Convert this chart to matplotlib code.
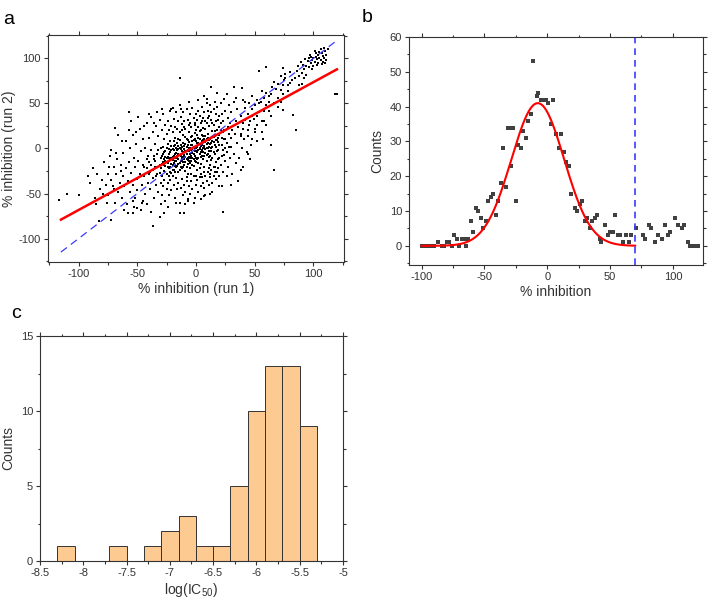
import matplotlib
matplotlib.use("Agg")
import matplotlib.pyplot as plt
import numpy as np
from matplotlib.ticker import MultipleLocator, FuncFormatter

plt.rcParams['font.family'] = ['Liberation Sans', 'DejaVu Sans']
plt.rcParams['mathtext.fontset'] = 'custom'
plt.rcParams['mathtext.rm'] = 'Liberation Sans'
plt.rcParams['mathtext.default'] = 'regular'
plt.rcParams['axes.unicode_minus'] = False

# ---- panel a: % inhibition run 1 vs run 2 ----
core = [
    (-30, -22), (-29, -8), (-29, -30), (-28, -15), (-28, 2), (-27, -25), (-27, -12), (-26, -3), (-26, -19), (-25, -28),
    (-25, -10), (-24, 5), (-24, -16), (-23, -22), (-23, -6), (-22, -13), (-22, 8), (-21, -27), (-21, -2), (-20, -18),
    (-20, -9), (-19, 3), (-19, -24), (-18, -14), (-18, 12), (-17, -5), (-17, -20), (-16, -11), (-16, 6), (-15, -26),
    (-15, -1), (-14, -16), (-14, 9), (-13, -8), (-13, -21), (-12, 2), (-12, -13), (-11, 15), (-11, -4), (-10, -18),
    (-10, -7), (-9, 5), (-9, -25), (-8, -12), (-8, 10), (-7, -2), (-7, -17), (-6, 7), (-6, -9), (-5, -22),
    (-5, 0), (-4, 13), (-4, -14), (-3, -5), (-3, 4), (-2, -19), (-2, 9), (-1, -8), (-1, 17), (0, -3),
    (0, -15), (1, 6), (1, -24), (2, 12), (2, -10), (3, 1), (3, -6), (4, 20), (4, -17), (5, 8),
    (5, -2), (6, 14), (6, -12), (7, 3), (7, -20), (8, 22), (8, -5), (9, 10), (9, -14), (10, 0),
    (10, 16), (11, -9), (11, 25), (12, 5), (12, -18), (13, 12), (13, -3), (14, 19), (14, -11), (15, 7),
    (15, 26), (16, -6), (16, 14), (17, 2), (17, -15), (18, 21), (18, 9), (19, -2), (20, 15), (20, -10),
    (21, 28), (22, 4), (23, 18), (24, -7), (25, 11),
    (-12, -3), (-10, 3), (-8, -6), (-6, -14), (-4, -8), (-2, 2), (0, 8), (2, -2), (4, 3), (6, -4),
    (8, 7), (10, -6), (-15, -12), (-13, -1), (-11, -15), (-9, -9), (-7, 4), (-5, -11), (-3, -18), (-1, 1),
    (1, -12), (3, 10), (5, 15), (7, -8), (9, 1), (11, 9), (13, -13), (-18, -6), (-16, -19), (-14, 0),
    (-20, -1), (-22, -20), (-24, -9), (-26, -14), (-28, -6), (-25, 0), (-21, -11), (-19, -16), (-17, 1), (-23, -30),
    (0, 20), (2, 24), (4, -28), (6, 23), (-3, 14), (-6, 18), (-9, 13), (-12, 20), (-15, 10), (-18, 4),
    (3, -32), (7, -26), (11, -22), (15, -20), (0, -30), (-4, -28), (-8, -32), (12, -28), (16, -26), (19, -22),
    (5, 30), (9, 28), (13, 32), (-1, 26), (17, 30), (20, 36), (10, 34), (-10, 24), (-5, 28), (-7, -28),
]
core_dense = [
    (-24, -20), (-23, -14), (-22, -4), (-21, -17), (-20, -24), (-19, -8), (-18, -19), (-17, -11), (-16, -2), (-15, -17),
    (-14, -7), (-13, -14), (-12, -22), (-11, -9), (-10, -1), (-9, -15), (-8, -20), (-7, -10), (-6, -3), (-5, -16),
    (-4, -2), (-3, -11), (-2, -6), (-1, -14), (0, 1), (1, -4), (2, -16), (3, -1), (4, -9), (5, 4),
    (6, 0), (7, 10), (8, -1), (9, -7), (10, 6), (11, 2), (12, 11), (13, 6), (14, 2), (15, 13),
    (16, 4), (17, 9), (18, -3), (19, 7), (20, 4), (-26, -9), (-27, -18), (-29, -17), (-30, -10), (-31, -27),
    (-23, -1), (-21, 3), (-19, -2), (-17, -14), (-15, -6), (-13, 4), (-11, -20), (-9, -3), (-7, -13), (-5, -6),
    (-3, -1), (-1, -3), (1, 2), (3, 5), (5, -8), (7, 0), (9, 5), (11, -3), (13, 1), (15, -4),
    (-14, -24), (-10, -12), (-6, 1), (-2, -12), (2, 6), (6, 9), (10, 12), (14, 8), (-18, -26), (-22, -26),
    (-8, 2), (-4, 4), (0, -10), (4, -4), (8, 14), (12, -8), (16, 19), (-20, -13), (-16, -8), (-12, -10),
    (-33, -20), (-35, -14), (-37, -24), (-32, -2), (-34, -30), (-36, -8), (-38, -18), (-40, -28), (-42, -12), (-44, -20),
    (-1, 10), (1, 15), (3, 19), (-3, 8), (-7, 9), (-11, 6), (-15, 3), (-19, 8), (-23, -10), (-27, -4),
    (22, 12), (24, 20), (26, 6), (28, 16), (30, 2), (23, -2), (21, 20), (19, 12), (27, 24), (25, 0),
]
spread = [
    (-75, -52), (-74, -20), (-72, -35), (-72, -2), (-70, -45), (-69, -60), (-68, -28), (-67, -12), (-66, -48), (-65, -38),
    (-64, -18), (-63, -55), (-62, -5), (-62, -30), (-61, -42), (-60, -22), (-60, 8), (-59, -62), (-58, -36), (-57, -15),
    (-56, -48), (-56, 0), (-55, -27), (-54, -40), (-54, 15), (-53, -10), (-52, -55), (-52, -20), (-51, 5), (-50, -34),
    (-50, -46), (-49, -14), (-48, -28), (-48, 22), (-47, -3), (-46, -60), (-46, -40), (-45, -18), (-45, 10), (-44, -30),
    (-43, -50), (-43, 0), (-42, -22), (-42, 28), (-41, -38), (-41, -8), (-40, -15), (-40, 12), (-39, -45), (-39, -26),
    (-38, -2), (-38, 35), (-37, -33), (-37, 18), (-36, -55), (-36, -12), (-35, -20), (-35, 5), (-34, -40), (-34, 25),
    (-33, -28), (-33, -6), (-32, -48), (-32, 14), (-31, -18), (-31, 32), (-30, -38), (-30, 0), (-29, -52), (-29, 20),
    (-28, -42), (-28, 38), (-27, 10), (-27, -35), (-26, -58), (-26, 26), (-25, -45), (-25, 16), (-24, -38), (-24, 30),
    (-23, -52), (-23, 20), (-22, -35), (-22, 42), (-21, -46), (-21, 25), (-20, -30), (-20, 18), (-19, -40), (-19, 33),
    (-18, -55), (-18, 24), (-17, -33), (-17, 40), (-16, -45), (-16, 22), (-15, -38), (-15, 30), (-14, -60), (-14, 18),
    (-13, -44), (-13, 35), (-12, -34), (-12, 27), (-11, -52), (-11, 40), (-10, -40), (-10, 30), (-9, -48), (-9, 22),
    (-8, -36), (-8, 44), (-7, -58), (-7, 32), (-6, -42), (-6, 26), (-5, -50), (-5, 38), (-4, -36), (-4, 24),
    (-3, -45), (-3, 45), (-2, -30), (-2, 34), (-1, -55), (-1, 28), (0, -40), (0, 38), (1, -35), (1, 32),
    (2, -48), (2, 42), (3, -22), (3, 36), (4, -42), (4, 28), (5, -32), (5, 46), (6, -38), (6, 34),
    (7, -44), (7, 40), (8, -30), (8, 30), (9, -36), (9, 50), (10, -26), (10, 42), (11, -40), (11, 36),
    (12, -32), (12, 48), (13, -24), (13, 40), (14, -38), (14, 28), (15, -30), (15, 44), (16, -20), (16, 52),
    (17, -34), (17, 38), (18, -26), (18, 46), (19, -12), (19, 32), (20, -30), (20, 24), (21, -18), (21, 50),
    (22, -8), (22, 38), (23, -26), (23, 30), (24, 10), (24, 55), (25, -14), (25, 42), (26, -4), (26, 22),
    (27, -20), (27, 34), (28, 2), (28, 48), (29, -10), (29, 28), (30, 12), (30, 40), (31, -28), (31, 20),
    (32, -6), (32, 52), (33, 16), (34, -16), (34, 30), (35, 6), (35, 44), (36, -36), (36, 24), (37, -10),
    (38, 14), (38, 36), (39, 0), (40, -20), (40, 22), (41, 10), (42, 32), (43, -4), (44, 14), (45, 26),
    (46, -12), (47, 4), (48, 36), (50, 18), (52, 8), (30, -40), (26, -30), (20, -42), (14, -48), (8, -52),
]
sparse = [
    (-92, -30), (-90, -38), (-88, -22), (-86, -55), (-85, -62), (-84, -28), (-82, -45), (-80, -35), (-79, -50), (-78, -15),
    (-77, -40), (-76, -60), (-75, -28), (-73, -8), (-71, -42), (-70, -20), (-68, -5), (-66, 15), (-64, -25), (-63, 8),
    (-61, -68), (-58, -72), (-57, 20), (-55, 30), (-53, -65), (-51, 18), (-49, 35), (-47, -68), (-44, 25), (-42, -62),
    (-40, 38), (-38, -70), (-36, 28), (-33, 40), (-30, -62), (-27, -72), (-24, -65), (-20, 45), (-17, -60), (-14, 48),
    (-9, -62), (-6, 52), (-2, -60), (4, -56), (7, 58), (12, -50), (18, 62), (22, -42), (26, 60), (34, 56),
    (38, -24), (42, 52), (44, -6), (48, 44), (52, 36), (54, 50), (56, 30), (58, 42), (60, 26), (62, 52),
]
upper = [
    (60, 62), (65, 68), (70, 72), (72, 80), (75, 76), (68, 66), (62, 58), (55, 52), (58, 56), (50, 48),
    (52, 54), (64, 60), (66, 74), (74, 70), (76, 78), (80, 85), (78, 64), (70, 56), (56, 64), (48, 58),
    (45, 50), (42, 45), (40, 54), (44, 38), (46, 30), (50, 22), (54, 40), (60, 48), (62, 42), (66, 50),
    (70, 46), (72, 52), (74, 60), (64, 36), (58, 30), (52, 26), (48, 10), (44, 20), (40, 28), (38, 16),
]
high = [
    (88, 80), (90, 84), (92, 88), (94, 92), (96, 90), (98, 95), (99, 98), (100, 100), (101, 96), (102, 102),
    (103, 99), (104, 104), (105, 101), (106, 98), (107, 106), (108, 103), (109, 100), (110, 108), (111, 104), (112, 110),
    (96, 100), (100, 92), (104, 95), (106, 110), (108, 96), (102, 106), (98, 102), (95, 97), (91, 93), (93, 99),
    (97, 104), (103, 93), (105, 107), (109, 112), (111, 98), (99, 88), (101, 108), (107, 94), (89, 96), (86, 86),
    (87, 92), (84, 78), (80, 73), (82, 76), (78, 70), (90, 72), (92, 78), (88, 70), (94, 82), (110, 95),
]
outliers = [
    (-14, 78), (54, 86), (118, 60), (120, 60), (85, 21), (66, -24), (64, 4), (23, -70), (-37, -86), (-117, -57),
    (-110, -50), (-100, -52), (-83, -81), (-72, -79), (-57, 41), (-69, 23), (-29, 44), (-21, 44), (-13, 44), (13, 68),
    (32, 68), (39, 67), (2, 54), (9, 55), (60, 90), (74, 89), (76, 83), (72, 65), (74, 43), (83, 37),
    (56, 18), (57, 11), (49, 33), (-10, -72), (-14, -72), (7, -53), (-31, -76), (-50, -66), (-54, -72), (-54, -58),
    (-45, -58), (-7, -56),
]
fit_a_slope, fit_a_icpt = 0.71, 2.7
fit_a_range = [-115, 120]
diag_range = [-115, 118]

# ---- panel b: histogram of % inhibition ----
b_x = [-100, -98, -96, -94, -92, -90, -87, -84, -82, -80, -78, -76, -74, -72, -70, -68, -66, -65, -63, -61,
       -59, -57, -55, -53, -51, -49, -47, -45, -43, -41, -39, -37, -35, -33, -31, -29, -27, -29, -25, -23,
       -21, -19, -17, -15, -13, -11, -8, -7, -5, -3, -1, 1, 3, 5, 7, 9, 11, 13, 15, 17,
       19, 22, 24, 26, 28, 30, 32, 34, 36, 38, 40, 42, 43, 46, 48, 50, 52, 54, 56, 58,
       60, 63, 65, 67, 71, 76, 78, 81, 83, 86, 88, 91, 94, 96, 98, 102, 104, 107, 109, 112,
       114, 116, 118, 120]
b_y = [0, 0, 0, 0, 0, 0, 1, 0, 0, 1, 1, 0, 3, 2, 0, 2, 2, 0, 2, 7,
       4, 11, 10, 8, 5, 7, 13, 14, 15, 9, 13, 18, 28, 17, 34, 34, 34, 23, 13, 29,
       28, 33, 31, 36, 38, 53, 43, 44, 42, 42, 42, 41, 35, 42, 32, 28, 32, 27, 24, 23,
       15, 11, 10, 12, 13, 7, 8, 5, 7, 8, 9, 2, 1, 6, 3, 4, 4, 9, 3, 3,
       1, 3, 1, 3, 5, 3, 2, 6, 5, 1, 3, 2, 6, 3, 4, 8, 6, 5, 6, 1,
       0, 0, 0, 0]
gauss_amp, gauss_center, gauss_sigma = 41.0, -7.5, 21.0
gauss_end = 70
cutoff = 70

# ---- panel c: histogram of log(IC50) ----
c_edges = [-8.3, -8.1, -7.9, -7.7, -7.5, -7.3, -7.1, -6.9, -6.7, -6.5, -6.3, -6.1, -5.9, -5.7, -5.5, -5.3]
c_counts = [1, 0, 0, 1, 0, 1, 2, 3, 1, 1, 5, 10, 13, 13, 9]

W, H = 708, 598
fig = plt.figure(figsize=(W / 100, H / 100), dpi=100)


def box(l, t, r, b):
    return [l / W, 1 - b / H, (r - l) / W, (b - t) / H]


def style(ax):
    ax.tick_params(which='both', direction='out', top=True, right=True,
                   labelsize=8, color='#333333', labelcolor='#333333', width=0.8, pad=2)
    ax.tick_params(which='major', length=3)
    ax.tick_params(which='minor', length=1.8)
    for s in ax.spines.values():
        s.set_linewidth(0.8)
        s.set_color('#333333')


fmt = FuncFormatter(lambda v, p: '%g' % v)
lab = dict(fontsize=10, color='#333333')

# panel a
ax1 = fig.add_axes(box(48, 35, 344, 262))
pts = np.array(core + core_dense + spread + sparse + upper + high + outliers)
ax1.plot(pts[:, 0], pts[:, 1], 's', color='black', ms=2.1, mew=0)
ax1.plot(diag_range, diag_range, '--', color='#3b3bff', lw=0.9, dashes=(6, 4))
fx = np.array(fit_a_range)
ax1.plot(fx, fit_a_slope * fx + fit_a_icpt, color='#ff0000', lw=1.8)
ax1.set_xlim(-126, 126)
ax1.set_ylim(-126, 126)
ax1.xaxis.set_major_locator(MultipleLocator(50))
ax1.xaxis.set_minor_locator(MultipleLocator(25))
ax1.yaxis.set_major_locator(MultipleLocator(50))
ax1.yaxis.set_minor_locator(MultipleLocator(25))
ax1.set_xlabel('% inhibition (run 1)', labelpad=2, **lab)
ax1.set_ylabel('% inhibition (run 2)', labelpad=2, **lab)
style(ax1)

# panel b
ax2 = fig.add_axes(box(409, 37, 703, 265))
ax2.plot(b_x, b_y, 's', color='#404040', ms=3.4, mew=0)
gx = np.linspace(-100, gauss_end, 300)
ax2.plot(gx, gauss_amp * np.exp(-0.5 * ((gx - gauss_center) / gauss_sigma) ** 2), color='#ff0000', lw=1.5)
ax2.axvline(cutoff, color='#3b3bff', ls='--', lw=1.2, dashes=(4, 3))
ax2.set_xlim(-110, 124)
ax2.set_ylim(-5.5, 60)
ax2.xaxis.set_major_locator(MultipleLocator(50))
ax2.xaxis.set_minor_locator(MultipleLocator(25))
ax2.yaxis.set_major_locator(MultipleLocator(10))
ax2.yaxis.set_minor_locator(MultipleLocator(5))
ax2.set_xlabel('% inhibition', labelpad=2, **lab)
ax2.set_ylabel('Counts', labelpad=4, **lab)
style(ax2)

# panel c
ax3 = fig.add_axes(box(40, 336, 343, 561))
widths = np.diff(c_edges)
ax3.bar(c_edges[:-1], c_counts, width=widths, align='edge', color='#fdca91',
        edgecolor='#333333', linewidth=0.7)
ax3.set_xlim(-8.5, -5)
ax3.set_ylim(0, 15)
ax3.xaxis.set_major_locator(MultipleLocator(0.5))
ax3.xaxis.set_minor_locator(MultipleLocator(0.25))
ax3.yaxis.set_major_locator(MultipleLocator(5))
ax3.yaxis.set_minor_locator(MultipleLocator(2.5))
ax3.xaxis.set_major_formatter(fmt)
ax3.set_xlabel('log(IC$_{50}$)', labelpad=2, **lab)
ax3.set_ylabel('Counts', labelpad=4, **lab)
style(ax3)

fig.text(3 / W, 1 - 20 / H, 'a', fontsize=14, va='center', ha='left')
fig.text(362 / W, 1 - 18 / H, 'b', fontsize=14, va='center', ha='left')
fig.text(11 / W, 1 - 313 / H, 'c', fontsize=14, va='center', ha='left')

fig.savefig('out.png', dpi=100)
